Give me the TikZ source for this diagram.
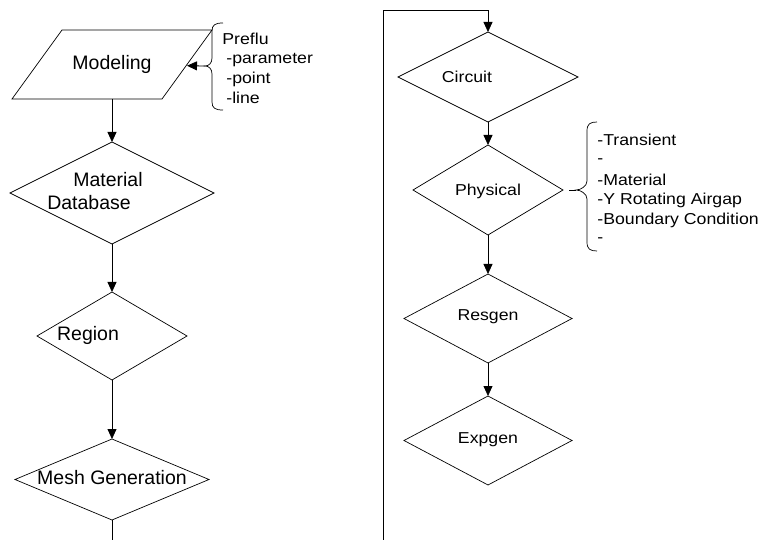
\documentclass[tikz,border=0pt]{standalone}
\usepackage{fontspec}
\setmainfont{Liberation Sans}
\newfontfamily\widefont{Liberation Sans}[FakeStretch=1.12]
\usetikzlibrary{shapes.geometric,arrows.meta,calc}
\begin{document}
\begin{tikzpicture}[x=1pt,y=-1pt,
  line width=0.8pt,
  dia/.style={diamond,draw,inner sep=0.5pt,outer sep=0pt,line width=0.7pt},
  lefttxt/.style={font=\fontsize{19.5}{22}\selectfont,inner sep=0pt},
  righttxt/.style={font=\widefont\fontsize{15.8}{19}\selectfont,inner sep=0pt},
  sidetxt/.style={font=\widefont\fontsize{15.8}{19}\selectfont,inner sep=0pt,anchor=west},
  arr/.style={-{Triangle[length=10pt,width=9pt]},line width=0.8pt},
  bracepath/.style={line width=0.7pt}]
\useasboundingbox (0,0) rectangle (769,540);
% left column
\node[rectangle,minimum width=150pt,minimum height=69pt,inner sep=0pt,outer sep=0pt,
      font=\fontsize{19.5}{22}\selectfont] (model) at (112,64.5) {Modeling};
\draw[line width=0.7pt] ($(model.north west)+(25,0)$) -- ($(model.north east)+(25,0)$)
  -- ($(model.south east)+(-25,0)$) -- ($(model.south west)+(-25,0)$) -- cycle;
\node[dia,minimum width=204pt,minimum height=102pt] (matdb) at (112,193) {};
\node[dia,minimum width=150pt,minimum height=88pt] (region) at (112,336) {};
\node[dia,minimum width=194pt,minimum height=81pt] (mesh) at (112,479.5) {};
\node[lefttxt] (tmat) at (108,180) {Material};
\node[lefttxt] (tdb) at (89,203) {Database};
\node[lefttxt] (tregion) at (88,335) {Region};
\node[lefttxt] (tmesh) at (112,478) {Mesh Generation};
\coordinate (mend) at (112,540);
\draw[arr] (model.south) -- (matdb.north);
\draw[arr] (matdb.south) -- (region.north);
\draw[arr] (region.south) -- (mesh.north);
\draw (mesh.south) -- (mend);
% Preflu brace
\coordinate (pbt) at (205,66);
\draw[bracepath] (223,23) .. controls (215,23) and (212,25) .. (212,31) -- (212,58)
  .. controls (212,63) and (209,66) .. (pbt)
  .. controls (209,66) and (212,69) .. (212,74) -- (212,102)
  .. controls (212,108) and (215,110) .. (223,110);
\draw[arr] (pbt) -- (model);
\node[sidetxt] (tpre) at (222,39) {Preflu};
\node[sidetxt] (tpar) at (226,60) {-parameter};
\node[sidetxt] (tpoint) at (226,79) {-point};
\node[sidetxt] (tline) at (226,98) {-line};
% right column
\node[dia,minimum width=180pt,minimum height=90pt] (circuit) at (488,77) {};
\node[dia,minimum width=150pt,minimum height=90pt] (phys) at (488,190) {};
\node[dia,minimum width=168pt,minimum height=89pt] (resgen) at (488,318.5) {};
\node[dia,minimum width=168pt,minimum height=89pt] (expgen) at (488,440.5) {};
\node[righttxt] (tcirc) at (467,77) {Circuit};
\node[righttxt] (tphys) at (488,191) {Physical};
\node[righttxt] (tres) at (488,317) {Resgen};
\node[righttxt] (texp) at (488,440) {Expgen};
\coordinate (rbot) at (383,540);
\coordinate (rtop) at (383,10);
\draw[arr] (rbot) -- (rtop) -| (circuit.north);
\draw[arr] (circuit.south) -- (phys.north);
\draw[arr] (phys.south) -- (resgen.north);
\draw[arr] (resgen.south) -- (expgen.north);
% Physical brace
\coordinate (qdash) at (569,190);
\coordinate (qbt) at (576,190);
\draw (qdash) -- (qbt);
\draw[bracepath] (597,122) .. controls (590,122) and (587,124) .. (587,131) -- (587,181)
  .. controls (587,186) and (581,190) .. (qbt)
  .. controls (581,190) and (587,194) .. (587,199) -- (587,242)
  .. controls (587,249) and (590,251) .. (597,251);
\node[sidetxt] (s1) at (597,140) {-Transient};
\node[sidetxt] (s2) at (597,161) {-};
\node[sidetxt] (s3) at (597,180) {-Material};
\node[sidetxt] (s4) at (597,200) {-Y Rotating Airgap};
\node[sidetxt] (s5) at (597,220) {-Boundary Condition};
\node[sidetxt] (s6) at (597,240) {-};
\end{tikzpicture}
\end{document}
